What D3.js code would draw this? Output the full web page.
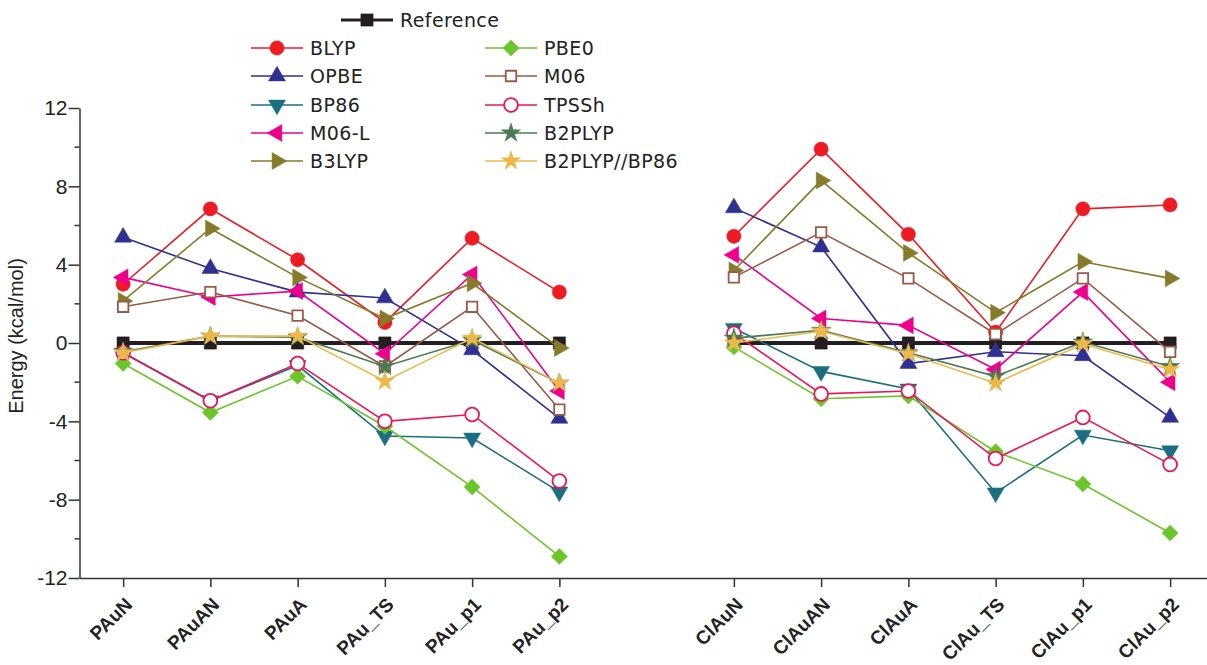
<!DOCTYPE html>
<html>
<head>
<meta charset="utf-8">
<script src="https://cdn.jsdelivr.net/npm/d3@7"></script>
<style>
body { margin: 0; background: #fff; }
svg { display: block; }
</style>
</head>
<body>
<div id="chart"></div>
<script>
// Width and height
var chartWidth = 1207;
var chartHeight = 665;

// Data
var categories = ["PAuN", "PAuAN", "PAuA", "PAu_TS", "PAu_p1", "PAu_p2", "",
                  "ClAuN", "ClAuAN", "ClAuA", "ClAu_TS", "ClAu_p1", "ClAu_p2"];
var yTicks = [-12, -8, -4, 0, 4, 8, 12];

var reference  = [0, 0, 0, 0, 0, 0, null, 0, 0, 0, 0, 0, 0];
var blyp       = [3.0, 6.85, 4.25, 1.05, 5.35, 2.6, null, 5.45, 9.9, 5.55, 0.55, 6.85, 7.05];
var opbe       = [5.4, 3.8, 2.6, 2.3, -0.35, -3.85, null, 6.9, 4.9, -1.05, -0.45, -0.65, -3.8];
var bp86       = [-0.5, -2.95, -1.15, -4.75, -4.85, -7.6, null, 0.75, -1.45, -2.35, -7.65, -4.7, -5.5];
var m06l       = [3.35, 2.35, 2.65, -0.55, 3.5, -2.45, null, 4.5, 1.25, 0.9, -1.35, 2.6, -2.0];
var b3lyp      = [2.15, 5.85, 3.35, 1.25, 3.05, -0.25, null, 3.7, 8.3, 4.6, 1.55, 4.15, 3.3];
var pbe0       = [-1.05, -3.55, -1.7, -4.25, -7.35, -10.9, null, -0.2, -2.85, -2.7, -5.55, -7.2, -9.7];
var m06        = [1.85, 2.6, 1.4, -1.2, 1.85, -3.4, null, 3.35, 5.65, 3.3, 0.45, 3.3, -0.45];
var tpssh      = [-0.5, -2.95, -1.05, -4.0, -3.65, -7.05, null, 0.5, -2.6, -2.45, -5.9, -3.8, -6.2];
var b2plyp     = [-0.45, 0.35, 0.3, -1.2, 0.15, -2.05, null, 0.25, 0.65, -0.5, -1.7, 0.05, -1.2];
var b2plypBp86 = [-0.5, 0.35, 0.35, -1.95, 0.25, -2.05, null, 0.0, 0.6, -0.55, -2.05, -0.05, -1.35];

// diamond with equal diagonals
var symbolSquareDiamond = {
    draw: function(context, size){
        var r = Math.sqrt(size / 2);
        context.moveTo(0, -r);
        context.lineTo(r, 0);
        context.lineTo(0, r);
        context.lineTo(-r, 0);
        context.closePath();
    }
};

var series = [
    {name: "Reference",    values: reference,  color: "#231f20", symbol: d3.symbolSquare,   size: 150, rotate: 0,   open: false, width: 4},
    {name: "BLYP",         values: blyp,       color: "#ed1c24", symbol: d3.symbolCircle,   size: 160, rotate: 0,   open: false, width: 1.6},
    {name: "OPBE",         values: opbe,       color: "#2e3192", symbol: d3.symbolTriangle, size: 125, rotate: 0,   open: false, width: 1.6},
    {name: "BP86",         values: bp86,       color: "#1b6f80", symbol: d3.symbolTriangle, size: 125, rotate: 180, open: false, width: 1.6},
    {name: "M06-L",        values: m06l,       color: "#ec008c", symbol: d3.symbolTriangle, size: 125, rotate: -90, open: false, width: 1.6},
    {name: "B3LYP",        values: b3lyp,      color: "#857b2b", symbol: d3.symbolTriangle, size: 125, rotate: 90,  open: false, width: 1.6},
    {name: "PBE0",         values: pbe0,       color: "#6bc62b", symbol: symbolSquareDiamond, size: 130, rotate: 0, open: false, width: 1.6},
    {name: "M06",          values: m06,        color: "#9a5a45", symbol: d3.symbolSquare,   size: 110, rotate: 0,   open: true,  width: 1.6},
    {name: "TPSSh",        values: tpssh,      color: "#ed1556", symbol: d3.symbolCircle,   size: 150, rotate: 0,   open: true,  width: 1.6},
    {name: "B2PLYP",       values: b2plyp,     color: "#4c7a52", symbol: d3.symbolStar,     size: 115, rotate: 0,   open: false, width: 1.6},
    {name: "B2PLYP//BP86", values: b2plypBp86, color: "#ecb84a", symbol: d3.symbolStar,     size: 115, rotate: 0,   open: false, width: 1.6}
];

// Scales
var x = d3.scaleLinear()
    .domain([-0.5, categories.length - 0.5])
    .range([79.5, 79.5 + 13 * 87.25]);
var y = d3.scaleLinear()
    .domain([-12, 12])
    .range([578, 108]);

// Create SVG
var svg = d3.select("#chart")
    .append("svg")
    .attr("width", chartWidth)
    .attr("height", chartHeight);

// Axes
var tickIdx = d3.range(categories.length).filter(function(i){ return categories[i] !== ""; });

var xAxis = svg.append("g")
    .attr("transform", "translate(0," + y(-12) + ")")
    .call(d3.axisBottom(x)
        .tickValues(tickIdx)
        .tickSize(9)
        .tickSizeOuter(0)
        .tickFormat(function(d){ return categories[d]; }));
xAxis.select(".domain").attr("stroke", "#333").attr("stroke-width", 1.5);
xAxis.selectAll(".tick line").attr("stroke", "#333").attr("stroke-width", 1.5);
xAxis.selectAll(".tick text")
    .attr("font-family", "Liberation Sans, Arial, sans-serif")
    .attr("font-weight", "bold")
    .attr("font-size", 19)
    .attr("fill", "#222")
    .attr("text-anchor", "end")
    .attr("transform", "translate(5,23) rotate(-45)")
    .attr("x", 0)
    .attr("y", 0)
    .attr("dy", "0.35em");

var yAxis = svg.append("g")
    .attr("transform", "translate(" + x(-0.5) + ",0)")
    .call(d3.axisLeft(y)
        .tickValues(yTicks)
        .tickSize(11)
        .tickSizeOuter(0)
        .tickFormat(d3.format("d")));
yAxis.select(".domain").attr("stroke", "#333").attr("stroke-width", 1.5);
yAxis.selectAll(".tick line").attr("stroke", "#333").attr("stroke-width", 1.5);
yAxis.selectAll(".tick text")
    .attr("font-family", "Liberation Sans, Arial, sans-serif")
    .attr("font-size", 21)
    .attr("fill", "#222")
    .attr("x", -12)
    .text(function(d){ return d < 0 ? "-" + Math.abs(d) : d; });

// minor ticks
svg.append("g")
    .selectAll("line")
    .data(d3.range(-10, 12, 4))
    .enter()
    .append("line")
    .attr("x1", x(-0.5) - 5)
    .attr("x2", x(-0.5))
    .attr("y1", function(d){ return y(d); })
    .attr("y2", function(d){ return y(d); })
    .attr("stroke", "#333")
    .attr("stroke-width", 1.5);

svg.append("text")
    .attr("transform", "translate(23," + (y(0) - 7) + ") rotate(-90)")
    .attr("text-anchor", "middle")
    .attr("font-family", "Liberation Sans, Arial, sans-serif")
    .attr("font-size", 20)
    .attr("fill", "#222")
    .text("Energy (kcal/mol)");

// Lines and markers
var line = d3.line()
    .defined(function(d){ return d.v !== null; })
    .x(function(d){ return x(d.i); })
    .y(function(d){ return y(d.v); });

function symbolPath(s){
    return d3.symbol().type(s.symbol).size(s.size)();
}

function drawMarker(g, s, cx, cy){
    g.append("path")
        .attr("d", symbolPath(s))
        .attr("transform", "translate(" + cx + "," + cy + ") rotate(" + s.rotate + ")")
        .attr("fill", s.open ? "#fff" : s.color)
        .attr("stroke", s.color)
        .attr("stroke-width", s.open ? 1.8 : 0.5);
}

series.forEach(function(s){
    var pts = s.values.map(function(v, i){ return {i: i, v: v}; });
    var g = svg.append("g");
    g.append("path")
        .attr("d", line(pts))
        .attr("fill", "none")
        .attr("stroke", s.color)
        .attr("stroke-width", s.width);
    pts.filter(function(d){ return d.v !== null; }).forEach(function(d){
        drawMarker(g, s, x(d.i), y(d.v));
    });
});

// Legend
var legendRows = [
    {s: series[0], x: 341, y: 20},
    {s: series[1], x: 251, y: 48},
    {s: series[2], x: 251, y: 76},
    {s: series[3], x: 251, y: 105},
    {s: series[4], x: 251, y: 133},
    {s: series[5], x: 251, y: 161},
    {s: series[6], x: 485, y: 48},
    {s: series[7], x: 485, y: 76},
    {s: series[8], x: 485, y: 105},
    {s: series[9], x: 485, y: 133},
    {s: series[10], x: 485, y: 161}
];

legendRows.forEach(function(r){
    var g = svg.append("g");
    g.append("line")
        .attr("x1", r.x).attr("x2", r.x + 52)
        .attr("y1", r.y).attr("y2", r.y)
        .attr("stroke", r.s.color)
        .attr("stroke-width", r.s.name === "Reference" ? 3 : 1.6);
    drawMarker(g, r.s, r.x + 26, r.y);
    g.append("text")
        .attr("x", r.x + 59)
        .attr("y", r.y)
        .attr("dy", "0.36em")
        .attr("font-family", "DejaVu Sans, sans-serif")
        .attr("font-size", 19)
        .attr("letter-spacing", 0.4)
        .attr("fill", "#222")
        .text(r.s.name);
});
</script>
</body>
</html>
